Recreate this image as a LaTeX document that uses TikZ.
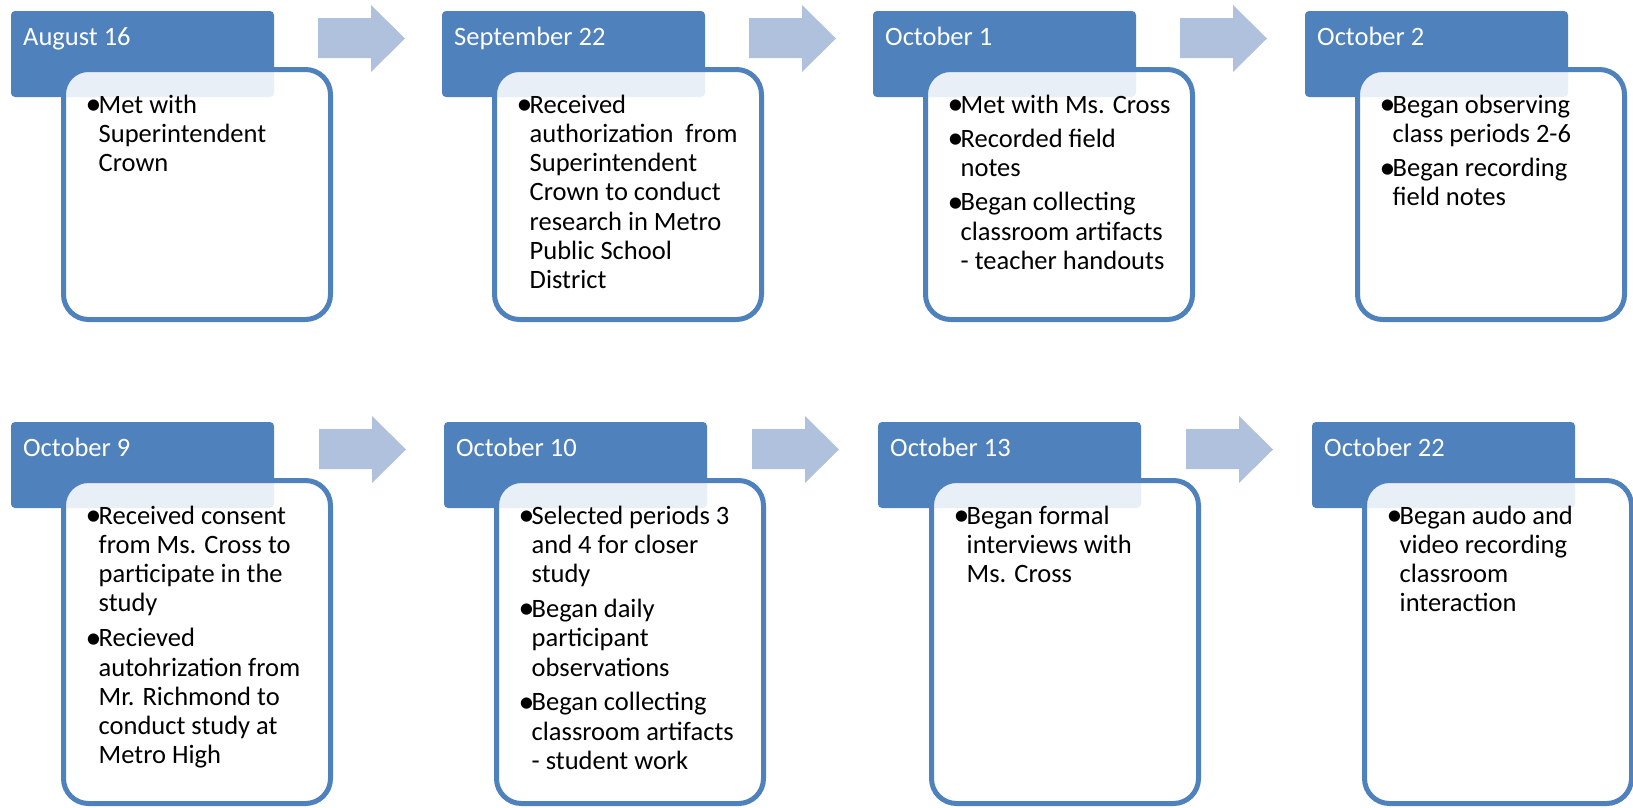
\documentclass[tikz,border=0pt]{standalone}
\usepackage{fontspec}
\setmainfont{Carlito}
\usetikzlibrary{calc,positioning}

\definecolor{hdrblue}{HTML}{4F81BD}
\definecolor{arrowblue}{HTML}{B0C1DE}
\newcommand{\bul}{\makebox[12.5pt][l]{\hspace{-0.5pt}\raisebox{-1.5pt}{\scalebox{1.2}{\textbullet}}}}

\tikzset{
  datebox/.style={fill=hdrblue, rounded corners=4pt, minimum width=263, minimum height=86,
    anchor=north west, inner sep=0pt, outer sep=0pt},
  datetext/.style={text=white, anchor=base west, inner sep=0pt},
  notebox/.style={draw=hdrblue, line width=5pt, fill=white, fill opacity=0.88,
    rounded corners=25pt, minimum width=267, anchor=north west, inner sep=0pt},
  notetext/.style={anchor=base west, inner sep=0pt},
  steparrow/.pic={\fill[arrowblue] (0,7) -- (53,7) -- (53,-6) -- (87,27.5) -- (53,61)
    -- (53,47) -- (0,47) -- cycle;}
}

\begin{document}
\begin{tikzpicture}[x=1pt, y=-1pt, font=\fontsize{26.5}{29.3}\selectfont]
  \useasboundingbox (0,0) rectangle (1633,807);

  % ---- first row ----
  % August 16
  \node[datebox] (d1) at (11,11) {};
  \node[datetext] (d1t) at ($(d1.north west)+(12,34)$) {August 16};
  \node[notebox, minimum height=250] (n1) at (61,67) {};
  \node[notetext] (n1t) at ($(n1.north west)+(25,46)$) {\begin{tabular}[t]{@{}l@{}l@{}}
    \bul & Met with\\ & Superintendent\\ & Crown
  \end{tabular}};
  \pic at ($(d1.north west)+(307,0)$) {steparrow};

  % September 22
  \node[datebox] (d2) at (442,11) {};
  \node[datetext] (d2t) at ($(d2.north west)+(12,34)$) {September 22};
  \node[notebox, minimum height=250] (n2) at (492,67) {};
  \node[notetext] (n2t) at ($(n2.north west)+(25,46)$) {\begin{tabular}[t]{@{}l@{}l@{}}
    \bul & Received\\ & authorization~ from\\ & Superintendent\\ & Crown to conduct\\
    & research in Metro\\ & Public School\\ & District
  \end{tabular}};
  \pic at ($(d2.north west)+(307,0)$) {steparrow};

  % October 1
  \node[datebox] (d3) at (873,11) {};
  \node[datetext] (d3t) at ($(d3.north west)+(12,34)$) {October 1};
  \node[notebox, minimum height=250] (n3) at (923,67) {};
  \node[notetext] (n3t) at ($(n3.north west)+(25,46)$) {\begin{tabular}[t]{@{}l@{}l@{}}
    \bul & Met with Ms. Cross\\[5pt]
    \bul & Recorded field\\ & notes\\[5pt]
    \bul & Began collecting\\ & classroom artifacts\\ & - teacher handouts
  \end{tabular}};
  \pic at ($(d3.north west)+(307,0)$) {steparrow};

  % October 2
  \node[datebox] (d4) at (1305,11) {};
  \node[datetext] (d4t) at ($(d4.north west)+(12,34)$) {October 2};
  \node[notebox, minimum height=250] (n4) at (1355,67) {};
  \node[notetext] (n4t) at ($(n4.north west)+(25,46)$) {\begin{tabular}[t]{@{}l@{}l@{}}
    \bul & Began observing\\ & class periods 2-6\\[5pt]
    \bul & Began recording\\ & field notes
  \end{tabular}};

  % ---- second row ----
  % October 9
  \node[datebox] (d5) at (11,422) {};
  \node[datetext] (d5t) at ($(d5.north west)+(12,34)$) {October 9};
  \node[notebox, minimum height=323] (n5) at (61,478) {};
  \node[notetext] (n5t) at ($(n5.north west)+(25,46)$) {\begin{tabular}[t]{@{}l@{}l@{}}
    \bul & Received consent\\ & from Ms. Cross to\\ & participate in the\\ & study\\[5.5pt]
    \bul & Recieved\\ & autohrization from\\ & Mr. Richmond to\\ & conduct study at\\ & Metro High
  \end{tabular}};
  \pic at ($(d5.north west)+(308,0)$) {steparrow};

  % October 10
  \node[datebox] (d6) at (444,422) {};
  \node[datetext] (d6t) at ($(d6.north west)+(12,34)$) {October 10};
  \node[notebox, minimum height=323] (n6) at (494,478) {};
  \node[notetext] (n6t) at ($(n6.north west)+(25,46)$) {\begin{tabular}[t]{@{}l@{}l@{}}
    \bul & Selected periods 3\\ & and 4 for closer\\ & study\\[5.5pt]
    \bul & Began daily\\ & participant\\ & observations\\[5.5pt]
    \bul & Began collecting\\ & classroom artifacts\\ & - student work
  \end{tabular}};
  \pic at ($(d6.north west)+(308,0)$) {steparrow};

  % October 13
  \node[datebox] (d7) at (878,422) {};
  \node[datetext] (d7t) at ($(d7.north west)+(12,34)$) {October 13};
  \node[notebox, minimum height=323] (n7) at (929,478) {};
  \node[notetext] (n7t) at ($(n7.north west)+(25,46)$) {\begin{tabular}[t]{@{}l@{}l@{}}
    \bul & Began formal\\ & interviews with\\ & Ms. Cross
  \end{tabular}};
  \pic at ($(d7.north west)+(308,0)$) {steparrow};

  % October 22
  \node[datebox] (d8) at (1312,422) {};
  \node[datetext] (d8t) at ($(d8.north west)+(12,34)$) {October 22};
  \node[notebox, minimum height=323] (n8) at (1362,478) {};
  \node[notetext] (n8t) at ($(n8.north west)+(25,46)$) {\begin{tabular}[t]{@{}l@{}l@{}}
    \bul & Began audo and\\ & video recording\\ & classroom\\ & interaction
  \end{tabular}};
\end{tikzpicture}
\end{document}
